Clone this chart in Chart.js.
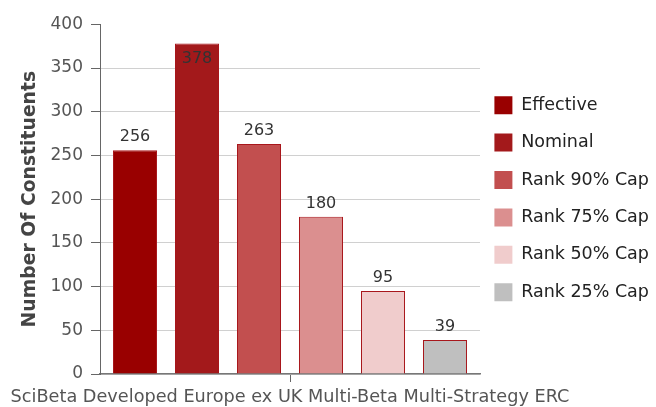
<!DOCTYPE html>
<html>
<head>
<meta charset="utf-8">
<script src="https://cdn.jsdelivr.net/npm/chart.js@4/dist/chart.umd.min.js"></script>
<style>
    html, body { margin: 0; padding: 0; background: #fff; }
    #wrap { width: 656px; height: 407px; }
</style>
</head>
<body>
<div id="wrap"><canvas id="mainChart" width="656" height="407"></canvas></div>
<script>
// Data
const categories = ['SciBeta Developed Europe ex UK Multi-Beta Multi-Strategy ERC'];
const seriesNames = ['Effective', 'Nominal', 'Rank 90% Cap', 'Rank 75% Cap', 'Rank 50% Cap', 'Rank 25% Cap'];
const seriesValues = [256, 378, 263, 180, 95, 39];
const seriesColors = ['#990000', '#a3191b', '#c24f4f', '#db8f8f', '#f0cccc', '#bfbfbf'];
const yTicks = [0, 50, 100, 150, 200, 250, 300, 350, 400];

const FONT = "'DejaVu Sans', sans-serif";

// Value labels above each bar (moved inside when there is no room on top)
const valueLabels = {
    id: 'valueLabels',
    afterDatasetsDraw(chart) {
        const ctx = chart.ctx;
        const area = chart.chartArea;
        ctx.save();
        ctx.font = '16px ' + FONT;
        ctx.fillStyle = '#333';
        ctx.textAlign = 'center';
        ctx.textBaseline = 'alphabetic';
        chart.data.datasets.forEach((ds, i) => {
            const bar = chart.getDatasetMeta(i).data[0];
            if (!bar) return;
            let y = bar.y - 9;
            if (y - 12 < area.top) {
                y = bar.y + 19;
            }
            ctx.fillText(String(ds.data[0]), bar.x, y);
        });
        ctx.restore();
    }
};

// nudge the legend a little closer to the plot
const legendShift = {
    id: 'legendShift',
    afterLayout(chart) {
        if (chart.legend) {
            chart.legend.left -= 5;
            chart.legend.right -= 5;
        }
    }
};

const datasets = seriesNames.map((name, i) => ({
    label: name,
    data: [seriesValues[i]],
    backgroundColor: seriesColors[i],
    borderColor: '#a8171c',
    borderWidth: 1,
    categoryPercentage: 0.979,
    barPercentage: 0.71
}));

const ctx = document.getElementById('mainChart').getContext('2d');
new Chart(ctx, {
    type: 'bar',
    data: { labels: categories, datasets: datasets },
    plugins: [valueLabels, legendShift],
    options: {
        responsive: false,
        animation: false,
        layout: { padding: { top: 24.3, right: 0, left: 0, bottom: 0 } },
        plugins: {
            tooltip: { enabled: false },
            legend: {
                position: 'right',
                align: 'start',
                maxWidth: 176,
                title: {
                    display: true,
                    text: '',
                    padding: { top: 51.5, bottom: 0 },
                    font: { size: 1, lineHeight: 1 }
                },
                labels: {
                    boxWidth: 18,
                    boxHeight: 18,
                    padding: 19.4,
                    color: '#222',
                    font: { family: FONT, size: 17.5 },
                    generateLabels(chart) {
                        return chart.data.datasets.map((ds, i) => ({
                            text: ds.label,
                            fillStyle: ds.backgroundColor,
                            strokeStyle: ds.backgroundColor,
                            fontColor: '#222',
                            lineWidth: 0,
                            hidden: false,
                            datasetIndex: i
                        }));
                    }
                }
            }
        },
        scales: {
            x: {
                grid: {
                    offset: false,
                    drawOnChartArea: false,
                    tickLength: 8,
                    tickColor: '#666'
                },
                border: { color: '#777', width: 1.5 },
                ticks: {
                    color: '#555',
                    padding: 5,
                    maxRotation: 0,
                    minRotation: 0,
                    autoSkip: false,
                    font: { family: FONT, size: 17.7 }
                },
                afterFit(scale) {
                    scale.paddingLeft = 0;
                    scale.paddingRight = 0;
                    scale.height = 33;
                }
            },
            y: {
                min: 0,
                max: 400,
                afterBuildTicks(scale) {
                    scale.ticks = yTicks.map(v => ({ value: v }));
                },
                grid: {
                    color: (c) => (c.tick && c.tick.value === 400) ? 'rgba(0,0,0,0)' : '#d0d0d0',
                    tickColor: '#666',
                    tickLength: 9
                },
                border: { color: '#666', width: 1 },
                ticks: {
                    color: '#555',
                    padding: 8,
                    font: { family: FONT, size: 17 }
                },
                title: {
                    display: true,
                    text: 'Number Of Constituents',
                    color: '#444',
                    padding: { top: 19, bottom: 0 },
                    font: { family: FONT, size: 18.8, weight: 'bold' }
                },
                afterFit(scale) {
                    scale.width = 100;
                }
            }
        }
    }
});
</script>
</body>
</html>
